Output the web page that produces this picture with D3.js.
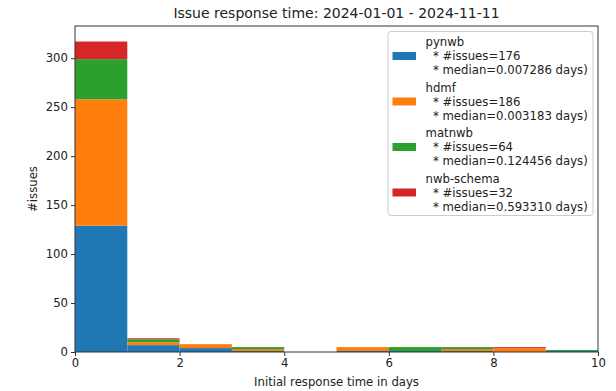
<!DOCTYPE html>
<html>
<head>
<meta charset="utf-8">
<script src="https://cdn.jsdelivr.net/npm/d3@7/dist/d3.min.js"></script>
<style>
  html, body { margin: 0; padding: 0; background: #fff; }
  svg { display: block; font-family: "DejaVu Sans", sans-serif; }
</style>
</head>
<body>
<svg id="chart" width="616" height="391"></svg>
<script>
// ---- data ----
const binEdges = [0, 1, 2, 3, 4, 5, 6, 7, 8, 9, 10];
const seriesNames = ["pynwb", "hdmf", "matnwb", "nwb-schema"];
const pynwbCounts     = [129, 7, 4, 1, 0, 1, 1, 1, 0, 1];
const hdmfCounts      = [129, 3, 4, 2, 0, 4, 0, 2, 4, 0];
const matnwbCounts    = [41, 3, 0, 2, 0, 0, 4, 2, 0, 1];
const nwbSchemaCounts = [18, 1, 0, 0, 0, 0, 0, 0, 1, 0];
const issueTotals = [176, 186, 64, 32];
const medians = ["0.007286", "0.003183", "0.124456", "0.593310"];
const xTicks = [0, 2, 4, 6, 8, 10];
const yTicks = [0, 50, 100, 150, 200, 250, 300];
const colors = ["#1f77b4", "#ff7f0e", "#2ca02c", "#d62728"];
const titleText = "Issue response time: 2024-01-01 - 2024-11-11";
const xLabel = "Initial response time in days";
const yLabel = "#issues";

// ---- layout ----
const svg = d3.select("#chart");
const L = 75, R = 598, T = 26, B = 352;
const fs = 11.7;

const countsBySeries = [pynwbCounts, hdmfCounts, matnwbCounts, nwbSchemaCounts];
const rows = binEdges.slice(0, -1).map((x0, i) => {
  const r = { x0: x0, x1: binEdges[i + 1] };
  seriesNames.forEach((n, k) => r[n] = countsBySeries[k][i]);
  return r;
});
const stack = d3.stack().keys(seriesNames)(rows);
const maxTotal = d3.max(rows, r => d3.sum(seriesNames, n => r[n]));

const x = d3.scaleLinear().domain([0, 10]).range([L, R]);
const y = d3.scaleLinear().domain([0, maxTotal * 1.05]).range([B, T]);

// bars
svg.append("g").selectAll("g").data(stack).join("g")
  .attr("fill", (d, i) => colors[i])
  .selectAll("rect").data(d => d).join("rect")
  .attr("x", d => x(d.data.x0))
  .attr("width", d => x(d.data.x1) - x(d.data.x0))
  .attr("y", d => y(d[1]))
  .attr("height", d => y(d[0]) - y(d[1]));

// axes
const xAxis = svg.append("g").attr("transform", `translate(0,${B})`)
  .call(d3.axisBottom(x).tickValues(xTicks).tickSize(4).tickPadding(3).tickFormat(d3.format("d")));
const yAxis = svg.append("g").attr("transform", `translate(${L},0)`)
  .call(d3.axisLeft(y).tickValues(yTicks).tickSize(4).tickPadding(3).tickFormat(d3.format("d")));
[xAxis, yAxis].forEach(a => {
  a.select(".domain").remove();
  a.selectAll("line").attr("stroke", "#333");
  a.selectAll("text").attr("font-size", fs).attr("fill", "#222").attr("font-family", "DejaVu Sans");
});

// frame
svg.append("rect").attr("x", L).attr("y", T).attr("width", R - L).attr("height", B - T)
  .attr("fill", "none").attr("stroke", "#333").attr("stroke-width", 1);

// title & labels
svg.append("text").attr("x", (L + R) / 2).attr("y", 18).attr("text-anchor", "middle")
  .attr("font-size", 14).attr("fill", "#222").text(titleText);
svg.append("text").attr("x", (L + R) / 2).attr("y", 386).attr("text-anchor", "middle")
  .attr("font-size", fs).attr("fill", "#222").text(xLabel);
svg.append("text").attr("transform", `translate(37,${(T + B) / 2}) rotate(-90)`)
  .attr("text-anchor", "middle").attr("font-size", fs).attr("fill", "#222").text(yLabel);

// legend
const lg = svg.append("g");
lg.append("rect").attr("x", 388).attr("y", 31.5).attr("width", 205).attr("height", 184)
  .attr("rx", 3).attr("fill", "#fff").attr("fill-opacity", 0.8)
  .attr("stroke", "#ccc").attr("stroke-width", 1);
seriesNames.forEach((n, i) => {
  const cy = 42 + i * 45.5;
  const lines = [n, "  * #issues=" + issueTotals[i], "  * median=" + medians[i] + " days)"];
  lg.append("rect").attr("x", 392.5).attr("y", cy + 14 - 4).attr("width", 23.5).attr("height", 8)
    .attr("fill", colors[i]);
  lines.forEach((t, j) => {
    lg.append("text").attr("x", 425.5).attr("y", cy + j * 14).attr("dy", "0.35em")
      .attr("font-size", fs).attr("fill", "#222").attr("xml:space", "preserve")
      .style("white-space", "pre").text(t);
  });
});
</script>
</body>
</html>
